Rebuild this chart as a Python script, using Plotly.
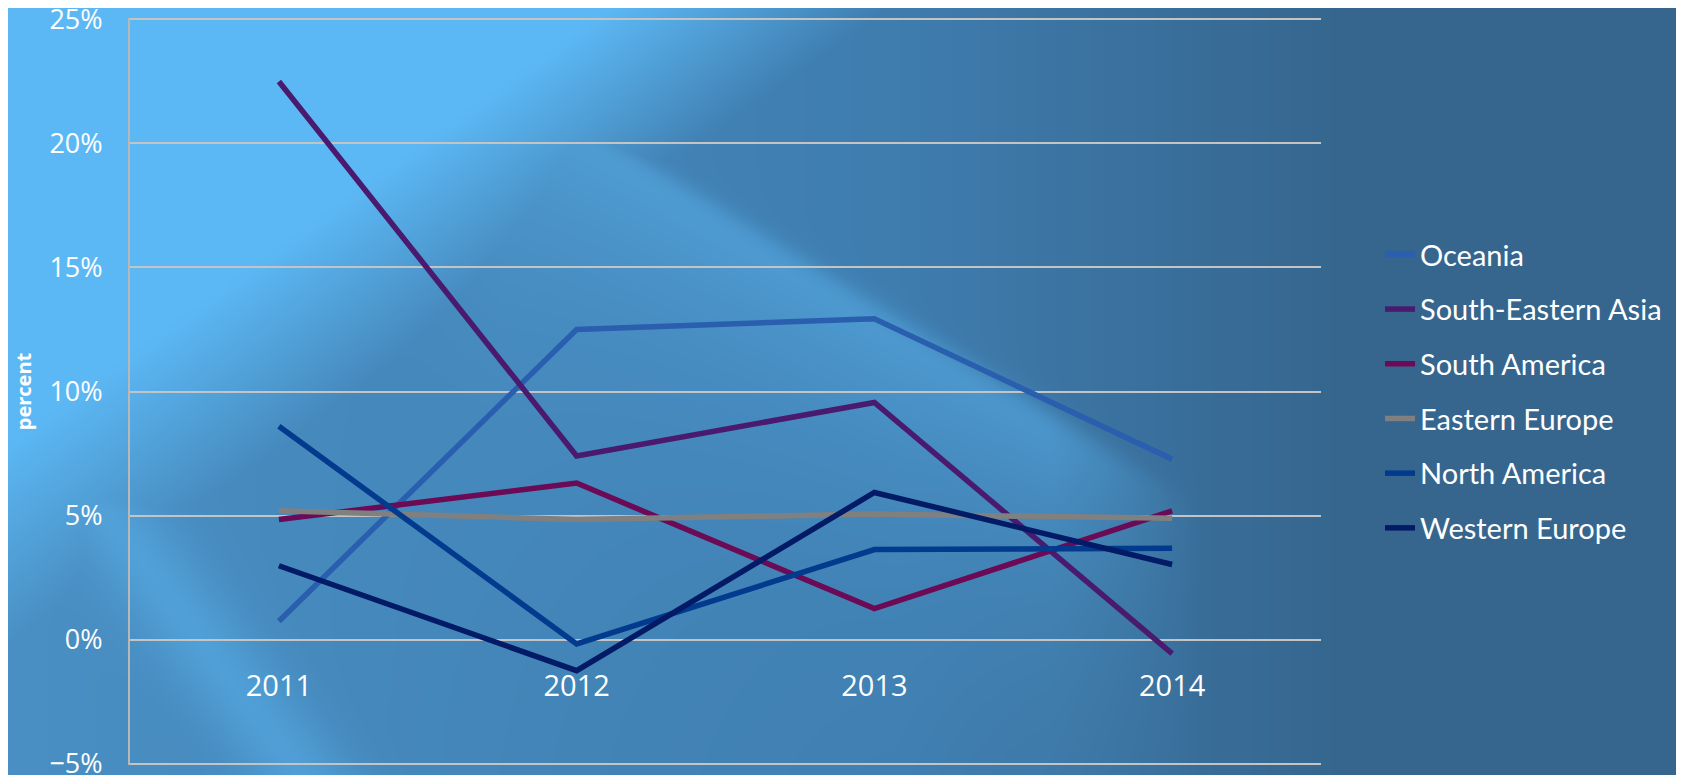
import base64
import struct
import zlib

import numpy as np
import plotly.graph_objects as go

# data (percent)
years = ["2011", "2012", "2013", "2014"]
oceania = [0.74, 12.5, 12.93, 7.27]
se_asia = [22.49, 7.4, 9.56, -0.56]
south_america = [4.84, 6.31, 1.25, 5.19]
eastern_europe = [5.19, 4.84, 5.06, 4.89]
north_america = [8.6, -0.17, 3.63, 3.68]
western_europe = [2.98, -1.25, 5.93, 3.03]

series = [
    ("Oceania", oceania, "#2a5eae"),
    ("South-Eastern Asia", se_asia, "#4a1a6e"),
    ("South America", south_america, "#6c0a56"),
    ("Eastern Europe", eastern_europe, "#808080"),
    ("North America", north_america, "#023a8e"),
    ("Western Europe", western_europe, "#031b66"),
]

# page has an 8px body margin, so the figure is drawn 8px smaller
OFF = 8
W, H = 1684 - OFF, 775 - OFF
L, R, T, B = 130 - OFF, 1321 - OFF, 18 - OFF, 765 - OFF


# background: blue gradient with light streaks, built as a small png
def make_bg(w=838, h=384):
    yy, xx = np.mgrid[0:h, 0:w].astype(float)
    xx = xx * W / w + OFF
    yy = yy * H / h + OFF
    stops = [0, 900, 1350]
    base = np.stack([
        np.interp(xx, stops, [74, 63, 54]),
        np.interp(xx, stops, [144, 125, 102]),
        np.interp(xx, stops, [196, 175, 142]),
    ], axis=-1)
    bright = np.array([92, 184, 244], float)

    # top-left glow
    b1 = np.clip((900 - (xx + 1.386 * yy)) / 280, 0, 1)
    # streak running down-right with a crisp right edge
    s = (yy - (233 + 0.62 * (xx - 759))) / 1.176
    b2 = 1 / (1 + np.exp(-s / 6)) * np.exp(-np.clip(s, 0, None) / 150) * 0.55
    b2 *= np.clip((xx - 300) / 200, 0, 1) * np.clip((1200 - xx) / 150, 0, 1)
    # narrow streak at lower left
    ux, uy = 193 / 322.4, 258 / 322.4
    d3 = (xx - 107) * uy - (yy - 515) * ux
    b3 = np.exp(-(d3 / 45) ** 2) * 0.45 * np.clip((yy - 430) / 80, 0, 1)

    b = np.maximum(np.maximum(b1, b2), b3)[..., None]
    img = base * (1 - b) + bright * b
    img = np.clip(img, 0, 255).astype(np.uint8)
    raw = b"".join(b"\x00" + img[i].tobytes() for i in range(h))

    def chunk(tag, data):
        c = struct.pack(">I", len(data)) + tag + data
        return c + struct.pack(">I", zlib.crc32(tag + data) & 0xFFFFFFFF)

    png = b"\x89PNG\r\n\x1a\n"
    png += chunk(b"IHDR", struct.pack(">IIBBBBB", w, h, 8, 2, 0, 0, 0))
    png += chunk(b"IDAT", zlib.compress(raw, 9))
    png += chunk(b"IEND", b"")
    return "data:image/png;base64," + base64.b64encode(png).decode()


fig = go.Figure()
for i, (name, vals, color) in enumerate(series):
    fig.add_trace(go.Scatter(
        x=years, y=vals, name=name, mode="lines",
        legendgroup=str(i),
        line=dict(color=color, width=5.5),
    ))

pw, ph = R - L, B - T
fig.add_layout_image(dict(
    source=make_bg(), xref="paper", yref="paper",
    x=-L / pw, y=1 + T / ph, sizex=W / pw, sizey=H / ph,
    xanchor="left", yanchor="top", sizing="stretch", layer="below",
))

fig.update_layout(
    width=W, height=H,
    margin=dict(l=L, r=W - R, t=T, b=H - B, autoexpand=False),
    paper_bgcolor="#36668e",
    plot_bgcolor="rgba(0,0,0,0)",
    font=dict(family="Open Sans", color="white", size=27),
    showlegend=True,
    legend=dict(
        x=(1380 - OFF - L) / pw, xanchor="left", y=0.5, yanchor="middle",
        font=dict(family="Lato", size=29, color="white"),
        tracegroupgap=14, bgcolor="rgba(0,0,0,0)",
    ),
    xaxis=dict(
        type="category", range=[-0.5, 3.5],
        anchor="free", position=(B - (640 - OFF)) / ph,
        showgrid=False, showline=False, zeroline=False,
        ticks="", ticklabelstandoff=26, automargin=False,
        tickfont=dict(size=29),
    ),
    yaxis=dict(
        range=[-5.05, 25.05], tick0=0, dtick=5,
        ticksuffix="%", ticklabeloverflow="allow",
        showgrid=True, gridcolor="#c4c4c4", gridwidth=1.5,
        zeroline=False, automargin=False,
        showline=True, linecolor="#b8b8b8", linewidth=2,
        ticks="", ticklabelstandoff=20,
        tickfont=dict(size=27),
        title=dict(text="<b>percent</b>", font=dict(size=20), standoff=12),
    ),
)

fig.write_html("out.html")
